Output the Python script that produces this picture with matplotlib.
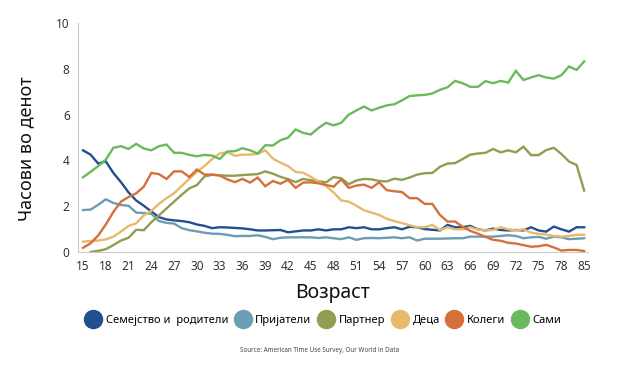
import numpy as np
import matplotlib
matplotlib.use("Agg")
import matplotlib.pyplot as plt
from matplotlib.lines import Line2D

plt.rcParams['font.family'] = ['Noto Sans', 'DejaVu Sans']

x_tick_labels = ["15", "18", "21", "24", "27", "30", "33", "36", "39", "42", "45", "48",
                 "51", "54", "57", "60", "63", "66", "69", "72", "75", "78", "85"]

family = [4.44, 4.25, 3.86, 3.96, 3.45, 3.05, 2.6, 2.25, 2.02, 1.77, 1.52, 1.42, 1.38, 1.35, 1.3, 1.2,
          1.14, 1.04, 1.08, 1.07, 1.05, 1.03, 0.99, 0.94, 0.94, 0.95, 0.96, 0.86, 0.9, 0.94, 0.94, 0.99,
          0.94, 0.99, 0.99, 1.08, 1.04, 1.08, 0.99, 0.99, 1.04, 1.08, 0.99, 1.1, 1.08, 1.0, 0.97, 0.94,
          1.18, 1.08, 1.08, 1.14, 0.99, 0.94, 1.02, 0.96, 0.94, 0.96, 0.94, 1.08, 0.94, 0.89, 1.11, 0.99,
          0.89, 1.08, 1.08]
friends = [1.83, 1.85, 2.06, 2.3, 2.14, 2.05, 2.02, 1.72, 1.7, 1.67, 1.35, 1.27, 1.24, 1.04, 0.95, 0.9,
           0.84, 0.8, 0.79, 0.75, 0.69, 0.7, 0.7, 0.73, 0.66, 0.56, 0.62, 0.64, 0.64, 0.64, 0.64, 0.61,
           0.64, 0.6, 0.56, 0.64, 0.53, 0.6, 0.61, 0.6, 0.62, 0.64, 0.6, 0.64, 0.5, 0.58, 0.58, 0.58,
           0.59, 0.6, 0.6, 0.67, 0.67, 0.67, 0.67, 0.7, 0.73, 0.7, 0.6, 0.64, 0.66, 0.58, 0.67, 0.64,
           0.56, 0.58, 0.6]
partner = [np.nan, 0.0, 0.05, 0.12, 0.3, 0.5, 0.62, 0.97, 0.95, 1.3, 1.6, 1.9, 2.2, 2.5, 2.78, 2.92,
           3.3, 3.37, 3.35, 3.33, 3.33, 3.36, 3.38, 3.4, 3.52, 3.42, 3.28, 3.18, 3.05, 3.19, 3.13, 3.09,
           3.04, 3.27, 3.22, 2.96, 3.12, 3.19, 3.17, 3.1, 3.08, 3.2, 3.15, 3.25, 3.38, 3.44, 3.45, 3.72,
           3.86, 3.88, 4.06, 4.25, 4.3, 4.33, 4.5, 4.35, 4.44, 4.35, 4.6, 4.23, 4.23, 4.45, 4.55, 4.28,
           3.95, 3.8, 2.68]
children = [0.45, 0.48, 0.5, 0.55, 0.67, 0.89, 1.14, 1.25, 1.6, 1.8, 2.1, 2.35, 2.57, 2.88, 3.2, 3.5,
            3.75, 4.06, 4.3, 4.36, 4.2, 4.25, 4.25, 4.28, 4.44, 4.08, 3.9, 3.75, 3.5, 3.46, 3.28, 3.08,
            2.88, 2.6, 2.25, 2.2, 2.02, 1.82, 1.72, 1.62, 1.45, 1.35, 1.26, 1.17, 1.08, 1.08, 1.18, 0.96,
            1.08, 0.99, 0.99, 1.08, 0.98, 0.94, 0.96, 1.08, 0.99, 0.94, 0.99, 0.85, 0.79, 0.76, 0.7, 0.67,
            0.7, 0.75, 0.75]
colleagues = [0.18, 0.38, 0.72, 1.2, 1.75, 2.2, 2.4, 2.56, 2.85, 3.45, 3.4, 3.19, 3.52, 3.52, 3.27, 3.6,
              3.38, 3.38, 3.34, 3.17, 3.05, 3.19, 3.03, 3.25, 2.87, 3.1, 2.98, 3.15, 2.8, 3.03, 3.04, 3.0,
              2.93, 2.85, 3.17, 2.8, 2.9, 2.94, 2.8, 3.04, 2.7, 2.65, 2.62, 2.35, 2.35, 2.1, 2.1, 1.62,
              1.33, 1.33, 1.1, 0.92, 0.8, 0.66, 0.53, 0.49, 0.4, 0.37, 0.3, 0.23, 0.25, 0.31, 0.2, 0.06,
              0.09, 0.09, 0.04]
alone = [3.26, 3.5, 3.75, 4.03, 4.55, 4.62, 4.5, 4.72, 4.52, 4.44, 4.62, 4.69, 4.33, 4.33, 4.24, 4.18,
         4.24, 4.21, 4.06, 4.39, 4.4, 4.53, 4.44, 4.3, 4.66, 4.65, 4.88, 4.99, 5.35, 5.2, 5.13, 5.41,
         5.64, 5.53, 5.64, 6.0, 6.18, 6.35, 6.18, 6.3, 6.4, 6.45, 6.62, 6.81, 6.84, 6.86, 6.92, 7.08,
         7.19, 7.47, 7.37, 7.21, 7.21, 7.46, 7.37, 7.47, 7.4, 7.91, 7.51, 7.62, 7.72, 7.62, 7.57, 7.72,
         8.1, 7.95, 8.32]

series_names = ["Семејство и  родители", "Пријатели", "Партнер", "Деца", "Колеги", "Сами"]
series_values = [family, friends, partner, children, colleagues, alone]
colors = ["#22508e", "#6d9db3", "#8f9e50", "#e8b96b", "#d6703b", "#6bb95d"]

fig = plt.figure(figsize=(6.3, 3.67), dpi=100)
ax = fig.add_axes([0.1238, 0.3134, 0.8095, 0.624])

for vals, c in zip(series_values, colors):
    xs = np.arange(len(vals))
    ax.plot(xs, vals, color=c, lw=1.7, solid_joinstyle='miter')

n = len(alone)
ax.set_xlim(-0.66, n - 1 + 0.5)
ax.set_ylim(0, 10)
ax.set_yticks([0, 2, 4, 6, 8, 10])
ax.set_xticks(np.arange(0, n, 3))
ax.set_xticklabels(x_tick_labels)
ax.tick_params(axis='both', length=0, labelsize=8.5, labelcolor='#333333')
ax.tick_params(axis='x', pad=6)
ax.tick_params(axis='y', pad=6)
for s in ['top', 'right']:
    ax.spines[s].set_visible(False)
for s in ['left', 'bottom']:
    ax.spines[s].set_color('#cccccc')
    ax.spines[s].set_linewidth(0.8)

ax.set_ylabel("Часови во денот", fontsize=13, fontweight='bold', color='#111111')
ax.yaxis.set_label_coords(-0.084, 0.45)
ax.set_xlabel("Возраст", fontsize=14, fontweight='bold', color='#111111', labelpad=7)

handles = [Line2D([0], [0], marker='o', linestyle='none', markersize=13,
                  markerfacecolor=c, markeredgecolor=c) for c in colors]
fig.legend(handles, series_names, loc='center', bbox_to_anchor=(0.514, 0.128), ncol=6,
           frameon=False, fontsize=8, handletextpad=0.55, columnspacing=0.7,
           handlelength=1.2, borderaxespad=0)

fig.text(0.508, 0.044, "Source: American Time Use Survey, Our World in Data",
         ha='center', va='center', fontsize=4.5, color='#444444')

fig.savefig("out.png", dpi=100)
